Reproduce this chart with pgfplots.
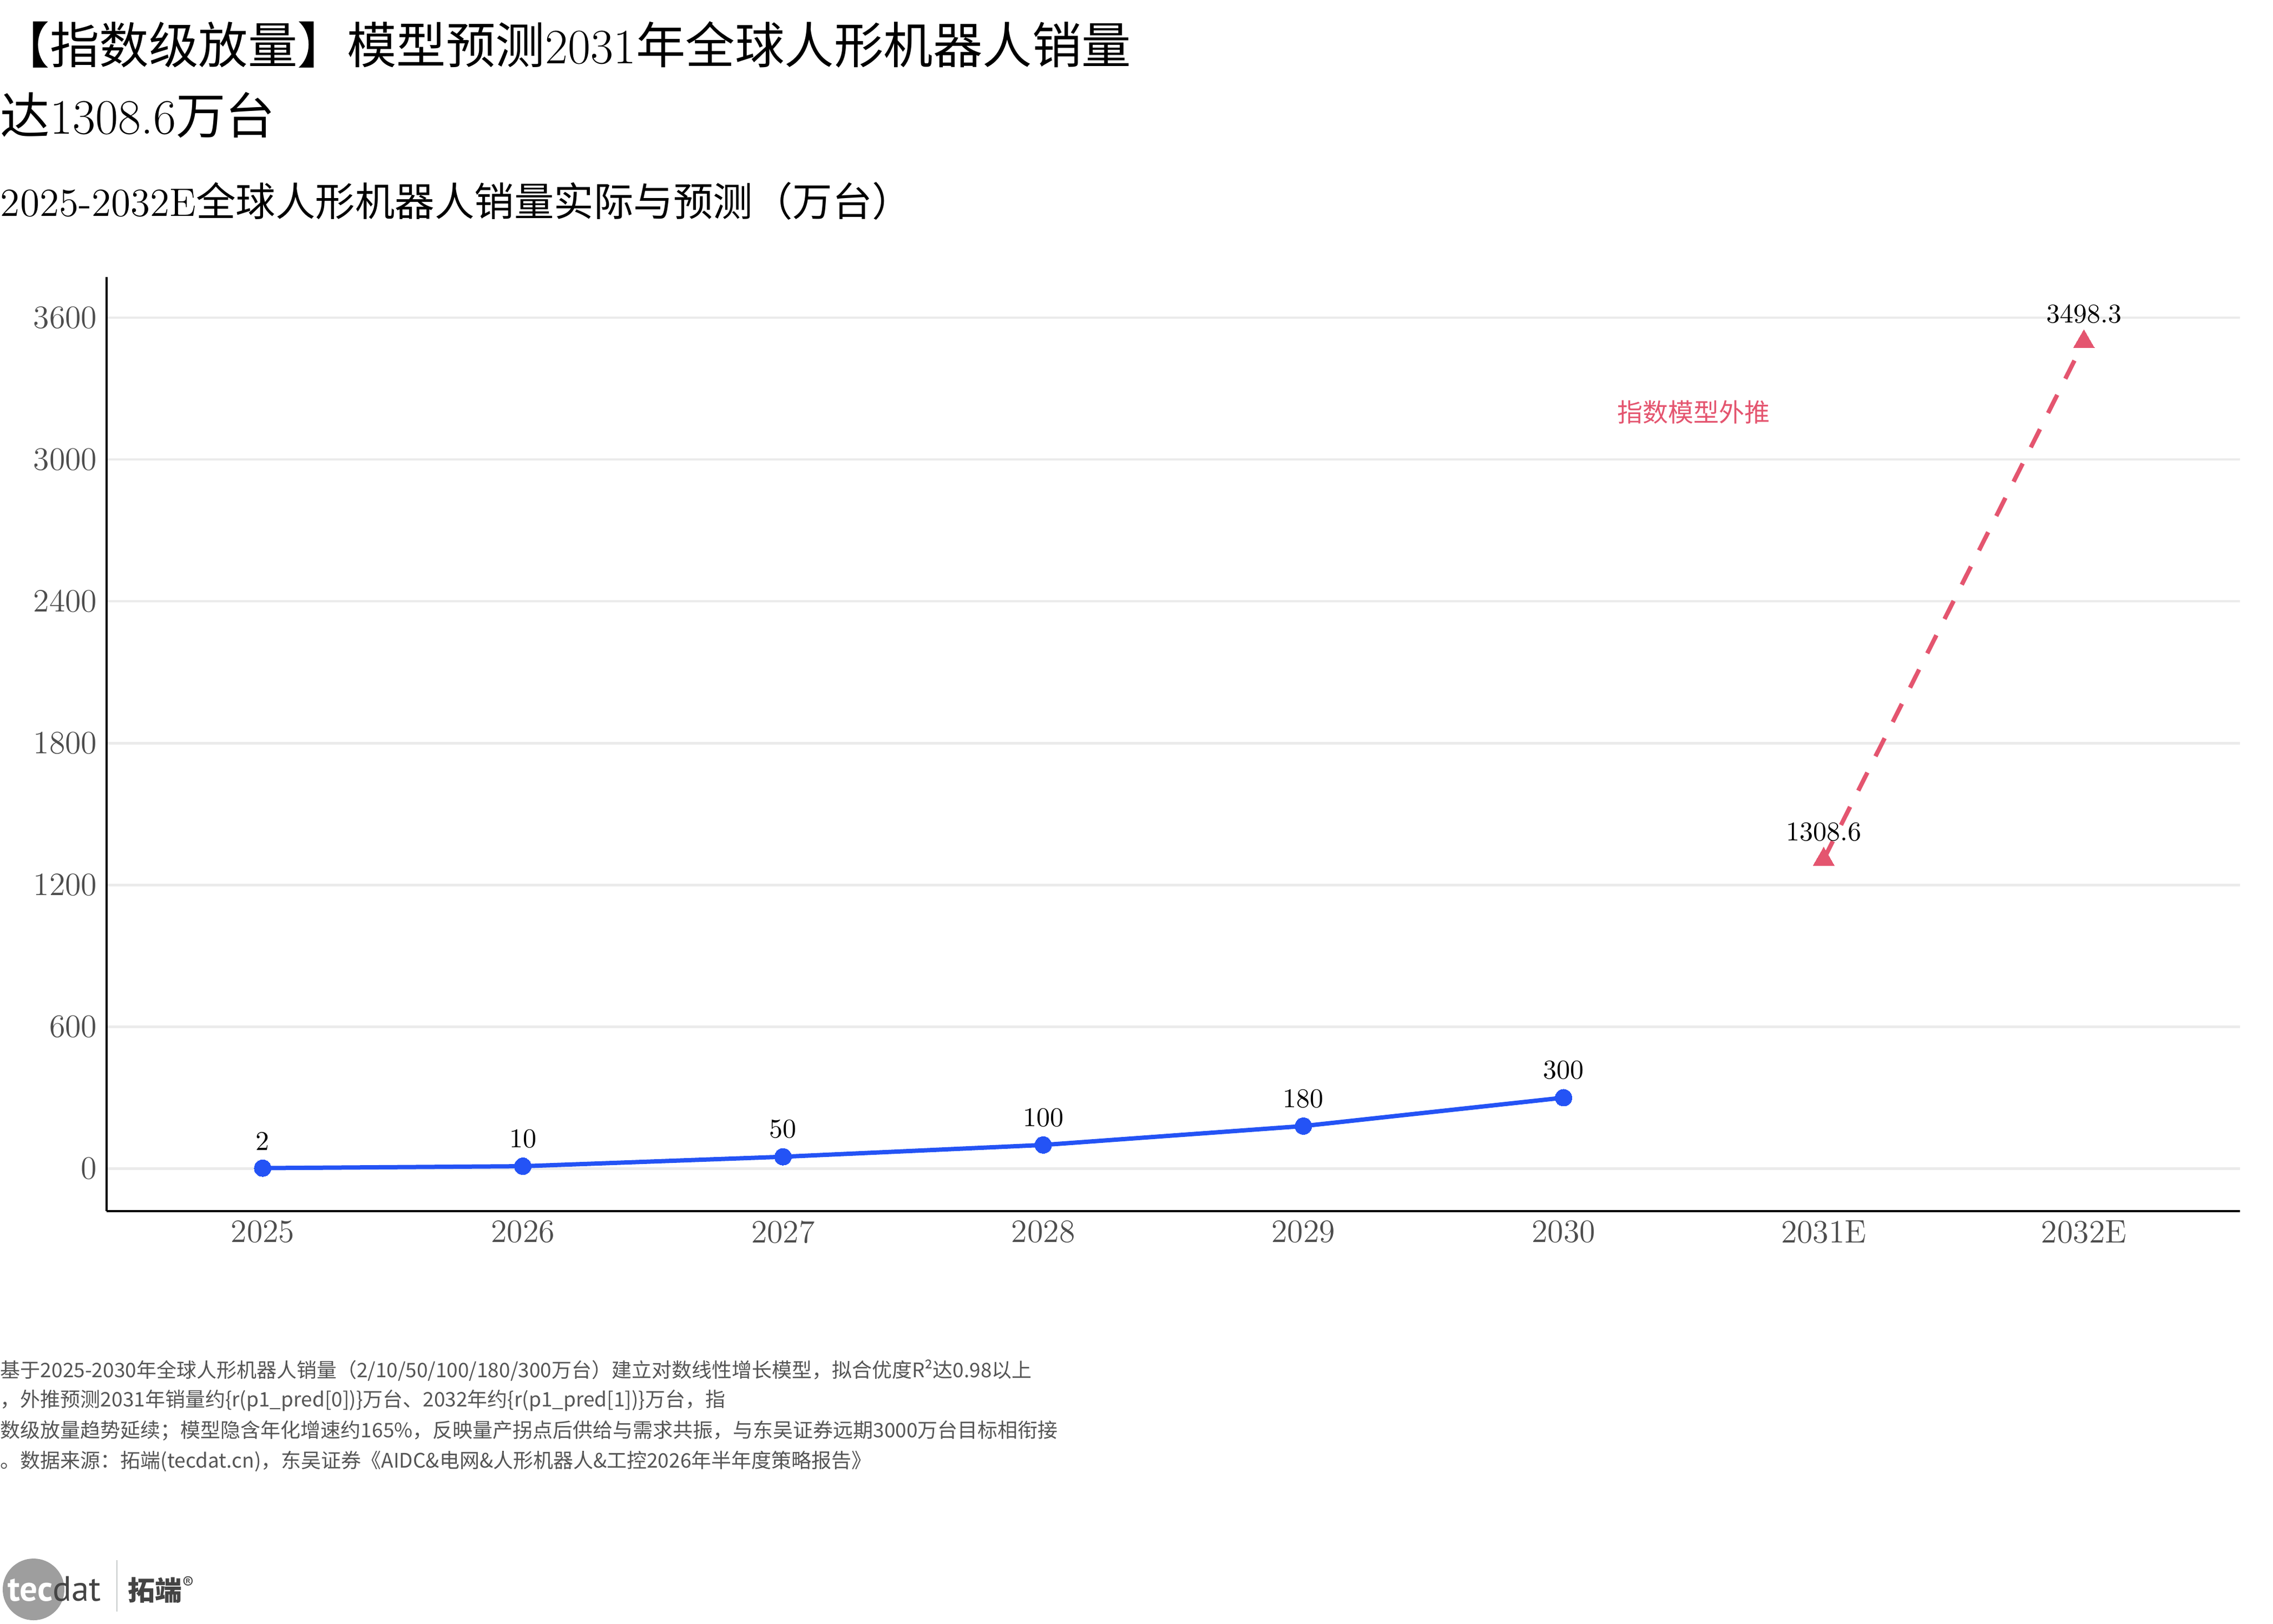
\documentclass[border=0pt]{standalone}
\usepackage{fontspec}
\usepackage{pgfplots}
\pgfplotsset{compat=1.18}
\newfontfamily\cjk{Noto Sans CJK SC}
\newfontfamily\logofont{PT Sans}
\definecolor{blueline}{HTML}{2453F5}
\definecolor{pinkc}{HTML}{E4556F}
\definecolor{gridc}{HTML}{EBEBEB}
\definecolor{tickc}{HTML}{4D4D4D}
\definecolor{footc}{HTML}{555555}
\definecolor{logogray}{HTML}{9E9E9E}
\definecolor{logodark}{HTML}{444444}
\definecolor{logoline}{HTML}{C8CCCC}
\newcommand{\zh}[1]{{\cjk #1}}
\begin{document}
\begin{tikzpicture}
\useasboundingbox (0,0) rectangle (840pt,-600pt);
% titles
\node[anchor=west, inner sep=0pt, font=\fontsize{18.3}{18.3}\selectfont] at (0pt,-16.5pt)
  {\zh{【指数级放量】模型预测}2031\zh{年全球人形机器人销量}};
\node[anchor=west, inner sep=0pt, font=\fontsize{18.3}{18.3}\selectfont] at (0pt,-42.6pt)
  {\zh{达}1308.6\zh{万台}};
\node[anchor=west, inner sep=0pt, font=\fontsize{14.7}{14.7}\selectfont] at (0pt,-74.4pt)
  {2025-2032E\zh{全球人形机器人销量实际与预测（万台）}};
\begin{axis}[
  at={(39.4pt,-447.6pt)}, anchor=south west,
  width=788.4pt, height=345.2pt, scale only axis,
  xmin=-0.6, xmax=7.6, ymin=-180, ymax=3772,
  axis x line*=bottom, axis y line*=left,
  axis line style={black, line width=0.76pt, -},
  xtick={0,1,2,3,4,5,6,7},
  xticklabels={2025,2026,2027,2028,2029,2030,2031E,2032E},
  ytick={0,600,1200,1800,2400,3000,3600},
  major tick length=0pt,
  ymajorgrids, grid style={gridc, line width=0.9pt},
  tick label style={text=tickc, font=\fontsize{12}{12}\selectfont},
  yticklabel style={/pgf/number format/1000 sep={}},
  scaled y ticks=false,
  clip=false,
]
\addplot[blueline, line width=1.6pt, mark=*, mark size=3.1pt,
  mark options={solid, fill=blueline, draw=blueline, line width=0pt},
  nodes near coords, point meta=explicit symbolic,
  every node near coord/.append style={anchor=south, inner sep=0pt, yshift=6.7pt,
     font=\fontsize{10}{10}\selectfont, text=black}]
  coordinates {(0,2)[2] (1,10)[10] (2,50)[50] (3,100)[100] (4,180)[180] (5,300)[300]};
\addplot[pinkc, line width=1.6pt, dash pattern=on 7.5pt off 6.7pt, mark=triangle*, mark size=4.5pt,
  mark options={solid, fill=pinkc, draw=pinkc, line width=0pt},
  nodes near coords, point meta=explicit symbolic,
  every node near coord/.append style={anchor=south, inner sep=0pt, yshift=6.7pt,
     font=\fontsize{10}{10}\selectfont, text=black}]
  coordinates {(6,1308.6)[1308.6] (7,3498.3)[3498.3]};
\node[text=pinkc, inner sep=0pt, font=\cjk\fontsize{9.4}{9.4}\selectfont] at (axis cs:5.5,3200) {指数模型外推};
\end{axis}
% footnotes
\begin{scope}[every node/.style={anchor=west, inner sep=0pt, text=footc, font=\cjk\fontsize{7.4}{7.4}\selectfont}]
\node at (0pt,-506.4pt) {基于2025-2030年全球人形机器人销量（2/10/50/100/180/300万台）建立对数线性增长模型，拟合优度R²达0.98以上};
\node at (0pt,-517.6pt) {，外推预测2031年销量约\{r(p1\_pred[0])\}万台、2032年约\{r(p1\_pred[1])\}万台，指};
\node at (0pt,-528.8pt) {数级放量趋势延续；模型隐含年化增速约165\%，反映量产拐点后供给与需求共振，与东吴证券远期3000万台目标相衔接};
\node at (0pt,-540pt) {。数据来源：拓端(tecdat.cn)，东吴证券《AIDC\&电网\&人形机器人\&工控2026年半年度策略报告》};
\end{scope}
% logo
\fill[logogray] (12.4pt,-587.4pt) circle (11.4pt);
\node[anchor=base west, inner sep=0pt, font=\logofont\bfseries\fontsize{13}{13}\selectfont] at (2.6pt,-591.6pt)
  {\textcolor{white}{tec}\textcolor{logodark}{\mdseries dat}};
\draw[logoline, line width=0.5pt] (43.2pt,-576.6pt) -- (43.2pt,-595.6pt);
\node[anchor=base west, inner sep=0pt, text=logodark, font=\cjk\bfseries\fontsize{10}{10}\selectfont] at (47pt,-591.4pt) {拓端};
\node[anchor=north west, inner sep=0pt, text=logodark, font=\logofont\fontsize{6.5}{6.5}\selectfont] at (67pt,-582.5pt) {®};
\end{tikzpicture}
\end{document}
